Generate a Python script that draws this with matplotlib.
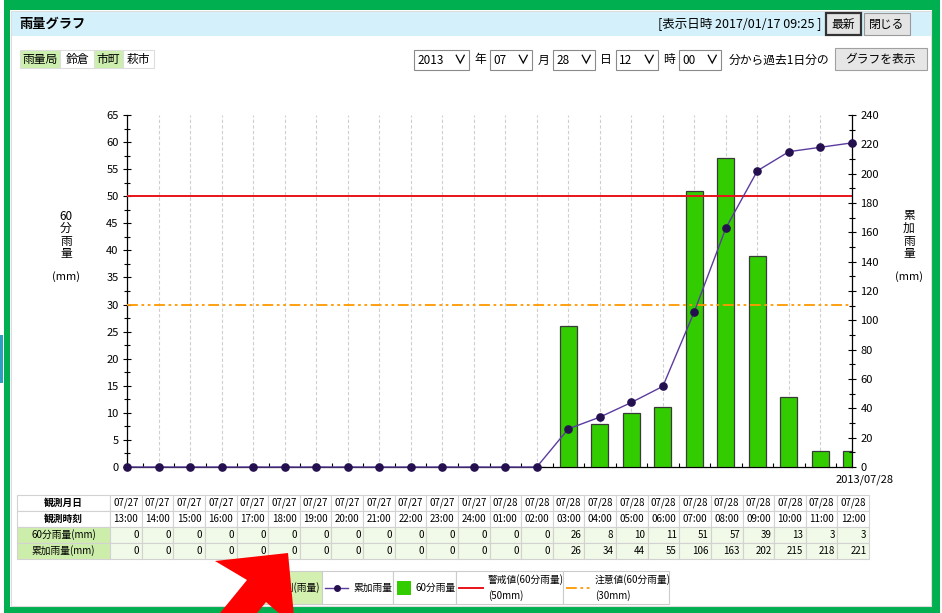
import numpy as np
import matplotlib
matplotlib.use("Agg")
import matplotlib.pyplot as plt
from matplotlib.patches import Rectangle, Polygon
from matplotlib.ticker import MultipleLocator

plt.rcParams["font.family"] = ["Noto Sans CJK JP", "DejaVu Sans"]

W, H = 942, 613

# data
year = "2013"
dates = ["07/27"] * 12 + ["07/28"] * 12
times = ["13:00", "14:00", "15:00", "16:00", "17:00", "18:00", "19:00", "20:00",
         "21:00", "22:00", "23:00", "24:00", "01:00", "02:00", "03:00", "04:00",
         "05:00", "06:00", "07:00", "08:00", "09:00", "10:00", "11:00", "12:00"]
rain_60 = [0, 0, 0, 0, 0, 0, 0, 0, 0, 0, 0, 0, 0, 0,
           26, 8, 10, 11, 51, 57, 39, 13, 3, 3]
rain_cum = [0, 0, 0, 0, 0, 0, 0, 0, 0, 0, 0, 0, 0, 0,
            26, 34, 44, 55, 106, 163, 202, 215, 218, 221]
warn_level = 50      # 警戒値
caution_level = 30   # 注意値
stations = ["雨量局", "鈴倉", "市町", "萩市"]

BAR_C = "#33cc00"
LINE_C = "#5b3c9e"
MARK_C = "#24104f"
WARN_C = "#e8141a"
CAUT_C = "#ff9900"
CAUT_DASH = (6, 2, 1.5, 2, 1.5, 2)


def fbox(x0, y0, x1, y1):
    """pixel box (top-left origin) -> figure fraction rect"""
    return [x0 / W, 1 - y1 / H, (x1 - x0) / W, (y1 - y0) / H]


def box(ax, x0, y0, x1, y1, fc="white", ec="#c8c8c8", lw=0.8, z=1):
    ax.add_patch(Rectangle((x0, y0), x1 - x0, y1 - y0, facecolor=fc,
                           edgecolor=ec, linewidth=lw, zorder=z))


def txt(ax, x, y, s, size=8.5, ha="left", **kw):
    ax.text(x, y, s, fontsize=size, ha=ha, va="center", **kw)


fig = plt.figure(figsize=(W / 100, H / 100), dpi=100)

# ---- page / UI layer ----
ui = fig.add_axes([0, 0, 1, 1], zorder=0)
ui.set_xlim(0, W)
ui.set_ylim(H, 0)
ui.axis("off")

green = "#00b050"
box(ui, 4, 0, 10, H, fc=green, ec="none")
box(ui, 4, 0, 940, 10, fc=green, ec="none")
box(ui, 932, 0, 940, H, fc=green, ec="none")
box(ui, 4, 607, 940, H, fc=green, ec="none")
box(ui, 0, 335, 3, 383, fc="#2a9fc0", ec="none")
box(ui, 11, 11, 931, 606, fc="none", ec="#dddddd", lw=0.8)

# header band
box(ui, 12, 12, 931, 36, fc="#d4f1fb", ec="none")
txt(ui, 19, 24, "雨量グラフ", size=9.5, weight="bold")
txt(ui, 822, 24, "[表示日時 2017/01/17 09:25 ]", size=9, ha="right")
box(ui, 826, 13, 861, 35, fc="#e4e4e4", ec="#333333", lw=1.6)
txt(ui, 843.5, 24, "最新", size=8.5, ha="center")
box(ui, 864, 13, 910, 35, fc="#e4e4e4", ec="#9a9a9a", lw=0.8)
txt(ui, 887, 24, "閉じる", size=8.5, ha="center")

# station buttons
st_edges = [20, 60, 94, 123, 154]
for i, name in enumerate(stations):
    fc = "#ccefad" if i % 2 == 0 else "white"
    box(ui, st_edges[i], 50, st_edges[i + 1], 68, fc=fc, ec="#dddddd")
    txt(ui, (st_edges[i] + st_edges[i + 1]) / 2, 59, name, size=8.5, ha="center")

# date selectors
selects = [(414, 469, year, 480, "年"), (490, 532, "07", 543, "月"),
           (553, 595, "28", 606, "日"), (616, 658, "12", 669, "時"),
           (679, 721, "00", None, None)]
for x0, x1, val, ux, unit in selects:
    box(ui, x0, 50, x1, 70, fc="white", ec="#8a8a8a")
    txt(ui, x0 + 3, 60, val, size=8.5)
    txt(ui, x1 - 9, 60, "∨", size=9, ha="center", weight="bold")
    if unit:
        txt(ui, ux, 60, unit, size=8.5, ha="center")
txt(ui, 729, 60, "分から過去1日分の", size=8.5)
box(ui, 835, 48, 927, 70, fc="#e6e6e6", ec="#a0a0a0")
txt(ui, 881, 59, "グラフを表示", size=8.5, ha="center")

# axis titles
for i, ch in enumerate(["60", "分", "雨", "量"]):
    txt(ui, 66, 216 + i * 12.5, ch, size=8.5, ha="center")
txt(ui, 66, 277, "(mm)", size=8, ha="center")
for i, ch in enumerate(["累", "加", "雨", "量"]):
    txt(ui, 909, 216 + i * 12.5, ch, size=8.5, ha="center")
txt(ui, 909, 277, "(mm)", size=8, ha="center")

# ---- chart ----
x = np.arange(len(times))
ax = fig.add_axes(fbox(127, 115, 852, 467), zorder=2)
ax.set_facecolor("none")
ax.bar(x, rain_60, width=0.54, color=BAR_C, edgecolor="#3a3a3a",
       linewidth=0.9, zorder=3)
ax.axhline(warn_level, color=WARN_C, lw=1.4, zorder=4)
ax.axhline(caution_level, color=CAUT_C, lw=1.3, dashes=CAUT_DASH, zorder=4)
ax.set_xlim(0, len(times) - 1)
ax.set_ylim(0, 65)
ax.set_xticks(x)
ax.set_xticks(x[:-1] + 0.5, minor=True)
ax.set_xticklabels([])
ax.grid(axis="x", which="major", color="#cfcfcf", linestyle=(0, (3, 2)),
        linewidth=0.8)
ax.set_axisbelow(True)
ax.tick_params(axis="x", which="major", length=0)
ax.tick_params(axis="x", which="minor", direction="in", length=3, width=0.8)
ax.yaxis.set_major_locator(MultipleLocator(5))
ax.yaxis.set_minor_locator(MultipleLocator(2.5))
ax.tick_params(axis="y", which="major", direction="inout", length=6,
               width=0.8, labelsize=8, pad=3)
ax.tick_params(axis="y", which="minor", direction="inout", length=4, width=0.8)
for s in ["top", "right"]:
    ax.spines[s].set_visible(False)
ax.spines["left"].set_linewidth(0.9)
ax.spines["bottom"].set_linewidth(0.9)

ax2 = ax.twinx()
ax2.plot(x, rain_cum, color=LINE_C, lw=1, marker="o", ms=5.2,
         mfc=MARK_C, mec=MARK_C, clip_on=False, zorder=5)
ax2.set_ylim(0, 240)
ax2.yaxis.set_major_locator(MultipleLocator(20))
ax2.yaxis.set_minor_locator(MultipleLocator(10))
ax2.tick_params(axis="y", which="major", direction="inout", length=6,
                width=0.8, labelsize=8, pad=3)
ax2.tick_params(axis="y", which="minor", direction="inout", length=4, width=0.8)
for s in ["top", "left", "bottom"]:
    ax2.spines[s].set_visible(False)
ax2.spines["right"].set_linewidth(0.9)
ax2.annotate(f"{year}/{dates[-1]}", xy=(x[-1], 0), xytext=(13, -13),
             textcoords="offset pixels", ha="center", va="center", fontsize=8)

# ---- data table ----
tab_ax = fig.add_axes(fbox(17, 495, 869, 559), zorder=3)
tab_ax.axis("off")
cells = [["観測月日"] + dates,
         ["観測時刻"] + times,
         ["60分雨量(mm)"] + [str(v) for v in rain_60],
         ["累加雨量(mm)"] + [str(v) for v in rain_cum]]
widths = [93] + [31.6] * len(times)
tbl = tab_ax.table(cellText=cells, colWidths=[w / sum(widths) for w in widths],
                   cellLoc="center", bbox=[0, 0, 1, 1])
tbl.auto_set_font_size(False)
tbl.set_fontsize(7)
for (r, c), cell in tbl.get_celld().items():
    cell.set_edgecolor("#d2d2d2")
    cell.set_linewidth(0.8)
    if r >= 2:
        cell.set_facecolor("#cdeeab" if c == 0 else "#f1f9e8")
        if c > 0:
            cell._loc = "right"
            cell.PAD = 0.08
            cell.get_text().set_horizontalalignment("right")
    if r < 2 and c == 0:
        cell.get_text().set_fontweight("bold")

# ---- legend strip ----
box(ui, 255, 571, 322, 604, fc="#d4f0b0", ec="#cccccc", z=2)
txt(ui, 320, 587.5, "凡例(雨量)", size=7, ha="right", zorder=3)
box(ui, 322, 571, 393, 604, ec="#cccccc", z=2)
ui.plot([325, 348], [588, 588], color=LINE_C, lw=1, zorder=3)
ui.plot([336.5], [588], "o", ms=4, color=MARK_C, zorder=3)
txt(ui, 353, 587.5, "累加雨量", size=7, zorder=3)
box(ui, 393, 571, 456, 604, ec="#cccccc", z=2)
box(ui, 397, 581, 411, 595, fc=BAR_C, ec="none", z=3)
txt(ui, 415, 587.5, "60分雨量", size=7, zorder=3)
box(ui, 456, 571, 563, 604, ec="#cccccc", z=2)
ui.plot([459, 483], [588, 588], color=WARN_C, lw=1.4, zorder=3)
txt(ui, 488, 580, "警戒値(60分雨量)", size=7, zorder=3)
txt(ui, 488, 596, "(50mm)", size=7, zorder=3)
box(ui, 563, 571, 669, 604, ec="#cccccc", z=2)
ui.plot([566, 590], [588, 588], color=CAUT_C, lw=1.3, dashes=CAUT_DASH, zorder=3)
txt(ui, 595, 580, "注意値(60分雨量)", size=7, zorder=3)
txt(ui, 595, 596, "(30mm)", size=7, zorder=3)

# ---- red pointer arrow drawn over everything ----
top = fig.add_axes([0, 0, 1, 1], zorder=10)
top.set_xlim(0, W)
top.set_ylim(H, 0)
top.axis("off")
arrow = [(288, 553), (215, 561), (247, 580), (198, 640), (235, 640),
         (266, 602), (295, 627)]
top.add_patch(Polygon(arrow, closed=True, facecolor="#ff0000", edgecolor="none"))

fig.savefig("out.png", dpi=100)
